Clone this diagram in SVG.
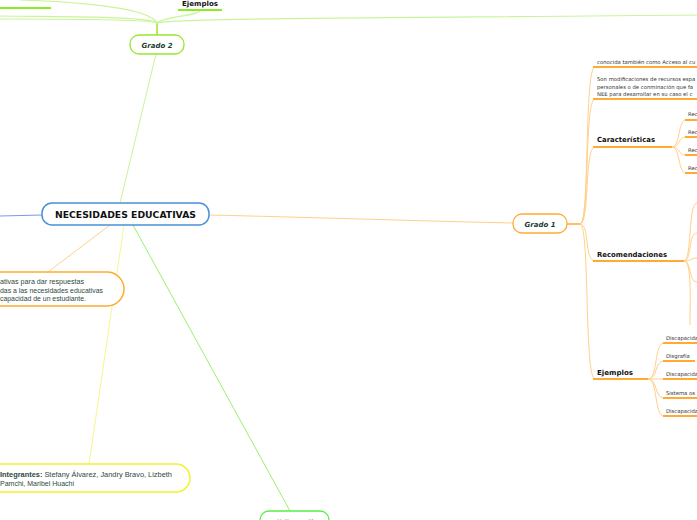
<svg xmlns="http://www.w3.org/2000/svg" width="697" height="520" viewBox="0 0 697 520">
<style>
  .node-text{font-family:"DejaVu Sans",Verdana,sans-serif;font-weight:bold;fill:#1a3d33}
  .title{font-family:"DejaVu Sans",Verdana,sans-serif;font-weight:bold;fill:#111}
  .small{font-family:"DejaVu Sans",Verdana,sans-serif;font-size:5.3px;fill:#333}
  .body{font-family:"Liberation Sans",Arial,sans-serif;font-size:7px;fill:#2c4a40}
  .oc{fill:none;stroke:#ffd08a;stroke-width:1}
  .ou{fill:none;stroke:#ffaa33;stroke-width:2}
  .gc{fill:none;stroke:#c8f59a;stroke-width:1.2}
</style>
<rect width="697" height="520" fill="#ffffff"/>
<g id="connectors">
  <path d="M0,216 L42,215" fill="none" stroke="#7799ee" stroke-width="1"/>
  <path d="M209,215 C300,217 420,221 513,223" class="oc"/>
  <path d="M120,203 L156,54" fill="none" stroke="#c8f59a" stroke-width="1"/>
  <path d="M110,225 L48,272" class="oc"/>
  <path d="M124,225 L89,464" fill="none" stroke="#f5f590" stroke-width="1"/>
  <path d="M133,225 L290,511" fill="none" stroke="#99f070" stroke-width="1"/>
  <path d="M157,35 L157,23" fill="none" stroke="#99e62e" stroke-width="1.5"/>
  <path d="M157,23 C150,16 60,17 0,16" class="gc"/>
  <path d="M157,23 C150,19 60,19 0,19" class="gc"/>
  <path d="M157,23 C150,8 80,2 20,0" class="gc"/>
  <path d="M157,23 C165,16 200,16 200,10" class="gc"/>
  <path d="M157,23 C170,18 400,18 697,15" class="gc"/>
  <path d="M0,8 L51,8" fill="none" stroke="#88ee22" stroke-width="2"/>
  <path d="M178,10 L222,10" fill="none" stroke="#88ee22" stroke-width="2"/>
  <path d="M567,224 L580,224" fill="none" stroke="#ffaa33" stroke-width="1.5"/>
  <path d="M580,224 C590,224 584,67 595,67" class="oc"/>
  <path d="M580,224 C590,224 584,99 595,99" class="oc"/>
  <path d="M580,224 C590,224 584,147 595,147" class="oc"/>
  <path d="M580,224 C590,224 584,261 595,261" class="oc"/>
  <path d="M580,224 C590,224 584,379 595,379" class="oc"/>
  <path d="M593,67 L697,67" class="ou"/>
  <path d="M593,99 L697,99" class="ou"/>
  <path d="M593,147 L672,147" class="ou"/>
  <path d="M593,261 L684,261" class="ou"/>
  <path d="M593,379 L648,379" class="ou"/>
  <path d="M672,147 C680,147 678,120 686,120" class="oc"/>
  <path d="M672,147 C680,147 678,137 686,137" class="oc"/>
  <path d="M672,147 C680,147 678,155 686,155" class="oc"/>
  <path d="M672,147 C680,147 678,173 686,173" class="oc"/>
  <path d="M685,120 L697,120" class="ou"/>
  <path d="M685,137 L697,137" class="ou"/>
  <path d="M685,155 L697,155" class="ou"/>
  <path d="M685,173 L697,173" class="ou"/>
  <path d="M684,261 C692,261 688,203 697,203" class="oc"/>
  <path d="M684,261 C692,261 688,233 697,233" class="oc"/>
  <path d="M684,261 C692,261 690,258 697,258" class="oc"/>
  <path d="M684,261 C692,261 688,282 697,282" class="oc"/>
  <path d="M684,261 C692,261 690,300 690,325" class="oc"/>
  <path d="M648,379 C658,379 654,343 664,343" class="oc"/>
  <path d="M648,379 C658,379 654,361 664,361" class="oc"/>
  <path d="M648,379 L664,379" class="oc"/>
  <path d="M648,379 C658,379 654,398 664,398" class="oc"/>
  <path d="M648,379 C658,379 654,416 664,416" class="oc"/>
  <path d="M663,343 L697,343" class="ou"/>
  <path d="M663,361 L695,361" class="ou"/>
  <path d="M663,379 L697,379" class="ou"/>
  <path d="M663,398 L697,398" class="ou"/>
  <path d="M663,416 L697,416" class="ou"/>
</g>
<g id="central">
  <rect x="42" y="203" width="167" height="22" rx="10" fill="#fff" stroke="#4a90d9" stroke-width="1.5"/>
  <text x="125.5" y="218" text-anchor="middle" class="title" font-size="8.5" textLength="141" lengthAdjust="spacingAndGlyphs">NECESIDADES EDUCATIVAS</text>
</g>
<g id="grado1">
  <rect x="513" y="214" width="54" height="19" rx="9" fill="#fff" stroke="#ffaa33" stroke-width="1.3"/>
  <text x="540" y="227" text-anchor="middle" class="node-text" font-size="7" font-style="italic" textLength="31" lengthAdjust="spacingAndGlyphs">Grado 1</text>
</g>
<g id="grado2">
  <rect x="130" y="35" width="54" height="19" rx="9" fill="#fff" stroke="#99e62e" stroke-width="1.3"/>
  <text x="157" y="48" text-anchor="middle" class="node-text" font-size="7" font-style="italic" textLength="31" lengthAdjust="spacingAndGlyphs">Grado 2</text>
</g>
<g id="ejemplos2">
  <text x="182" y="6" class="title" font-size="7" textLength="36" lengthAdjust="spacingAndGlyphs">Ejemplos</text>
</g>
<g id="def1">
  <text x="597" y="64" class="small">conocida también como Acceso al cu</text>
</g>
<g id="def2">
  <text x="597" y="81" class="small">Son modificaciones de recursos espa</text>
  <text x="597" y="88.5" class="small">personales o de conminación que fa</text>
  <text x="597" y="96" class="small">NEE para desarrollar en su caso el c</text>
</g>
<g id="caracteristicas">
  <text x="597" y="142" class="title" font-size="7" textLength="58" lengthAdjust="spacingAndGlyphs">Características</text>
  <text x="688" y="116" class="small">Rec</text>
  <text x="688" y="134" class="small">Rec</text>
  <text x="688" y="152" class="small">Rec</text>
  <text x="688" y="170" class="small">Rec</text>
</g>
<g id="recomendaciones">
  <text x="597" y="257" class="title" font-size="7" textLength="70" lengthAdjust="spacingAndGlyphs">Recomendaciones</text>
</g>
<g id="ejemplos1">
  <text x="597" y="375" class="title" font-size="7" textLength="36" lengthAdjust="spacingAndGlyphs">Ejemplos</text>
  <text x="666" y="340" class="small">Discapacida</text>
  <text x="666" y="358" class="small">Disgrafía</text>
  <text x="666" y="376" class="small">Discapacida</text>
  <text x="666" y="394.5" class="small">Sistema os</text>
  <text x="666" y="412.5" class="small">Discapacida</text>
</g>
<g id="definicion">
  <rect x="-30" y="272" width="154" height="34" rx="17" fill="#fff" stroke="#ffaa33" stroke-width="1.5"/>
  <text x="0" y="284" class="body" textLength="84" lengthAdjust="spacingAndGlyphs">ativas para dar respuestas</text>
  <text x="0" y="292.5" class="body" textLength="103" lengthAdjust="spacingAndGlyphs">das a las necesidades educativas</text>
  <text x="0" y="301" class="body" textLength="86" lengthAdjust="spacingAndGlyphs">capacidad de un estudiante.</text>
</g>
<g id="integrantes">
  <rect x="-30" y="464" width="220" height="28" rx="14" fill="#fff" stroke="#f2f230" stroke-width="1.5"/>
  <text x="0" y="477" class="body" textLength="172" lengthAdjust="spacingAndGlyphs"><tspan font-weight="bold">Integrantes:</tspan> Stefany Álvarez, Jandry Bravo, Lizbeth</text>
  <text x="0" y="485.5" class="body" textLength="74" lengthAdjust="spacingAndGlyphs">Pamchi, Maribel Huachi</text>
</g>
<g id="bibliografia">
  <rect x="260" y="511" width="69" height="22" rx="9" fill="#fff" stroke="#55ee44" stroke-width="1.3"/>
  <text x="294.5" y="525" text-anchor="middle" class="title" font-size="7">Bibliografía</text>
</g>
</svg>
